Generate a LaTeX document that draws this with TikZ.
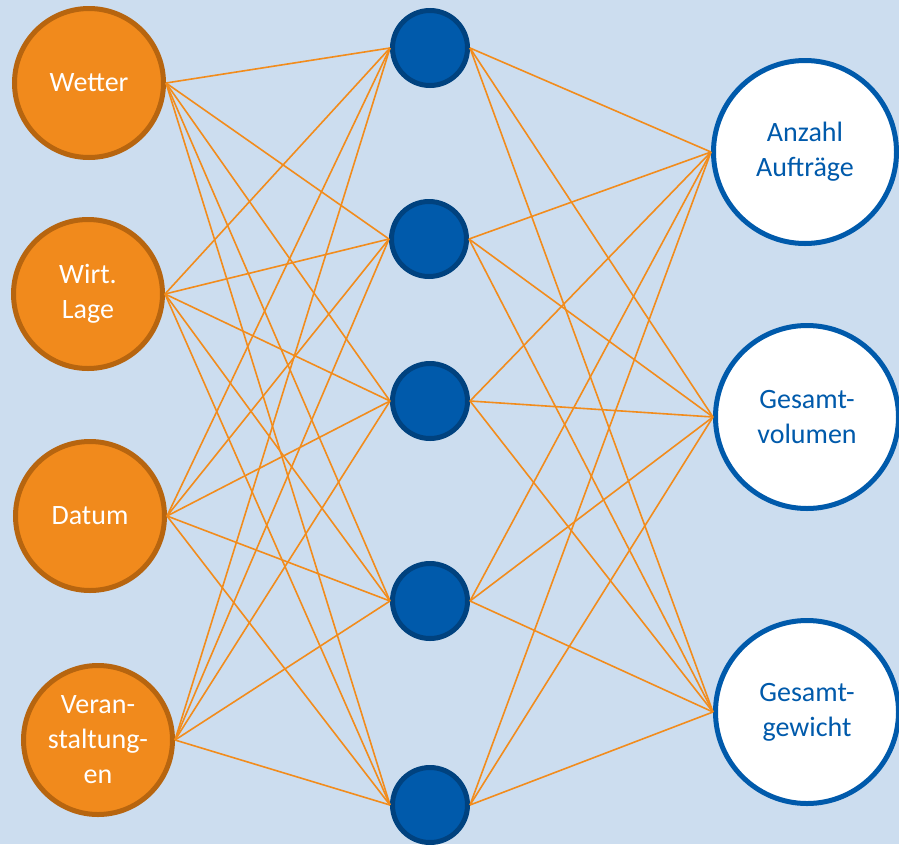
\documentclass[tikz,border=0pt]{standalone}
\usepackage{fontspec}
\setmainfont{Carlito}
\usepackage{tikz}
\usetikzlibrary{positioning}
\definecolor{bgblue}{HTML}{CCDDEF}
\definecolor{inorange}{HTML}{F18A1C}
\definecolor{inborder}{HTML}{B7650F}
\definecolor{hidblue}{HTML}{005AAB}
\definecolor{hidborder}{HTML}{00427F}
\definecolor{edgeorange}{HTML}{F28C1C}
\tikzset{
  innode/.style={circle, draw=inborder, fill=inorange, line width=5pt,
    minimum size=149pt, inner sep=0pt, text=white, align=center,
    font=\fontsize{28}{35}\selectfont},
  hidnode/.style={circle, draw=hidborder, fill=hidblue, line width=5pt,
    minimum size=75pt, inner sep=0pt},
  outnode/.style={circle, draw=hidblue, fill=white, line width=5pt,
    minimum size=183pt, inner sep=0pt, text=hidblue, align=center,
    font=\fontsize{28}{35}\selectfont},
  edge/.style={draw=edgeorange, line width=1.6pt}
}
\begin{document}
\begin{tikzpicture}[x=1pt, y=-1pt]
  \useasboundingbox (0,0) rectangle (899,844);
  \fill[bgblue] (0,0) rectangle (899,844);
  % input layer
  \node[innode] (in1) at (89,83) {Wetter};
  \node[innode] (in2) at (88,294) {Wirt.\\Lage};
  \node[innode] (in3) at (90,516) {Datum};
  \node[innode] (in4) at (98,740) {Veran-\\staltung-\\en};
  % hidden layer
  \node[hidnode] (h1) at (430,48) {};
  \node[hidnode] (h2) at (429,239) {};
  \node[hidnode] (h3) at (430,401) {};
  \node[hidnode] (h4) at (430,601) {};
  \node[hidnode] (h5) at (430,805) {};
  % output layer
  \node[outnode] (out1) at (805,152) {Anzahl\\Aufträge};
  \node[outnode] (out2) at (807,417) {Gesamt-\\volumen};
  \node[outnode] (out3) at (807,712) {Gesamt-\\gewicht};
  % connections
  \foreach \i in {1,...,4}
    \foreach \j in {1,...,5}
      \draw[edge] (in\i.east) -- (h\j.west);
  \foreach \j in {1,...,5}
    \foreach \k in {1,...,3}
      \draw[edge] (h\j.east) -- (out\k.west);
\end{tikzpicture}
\end{document}
